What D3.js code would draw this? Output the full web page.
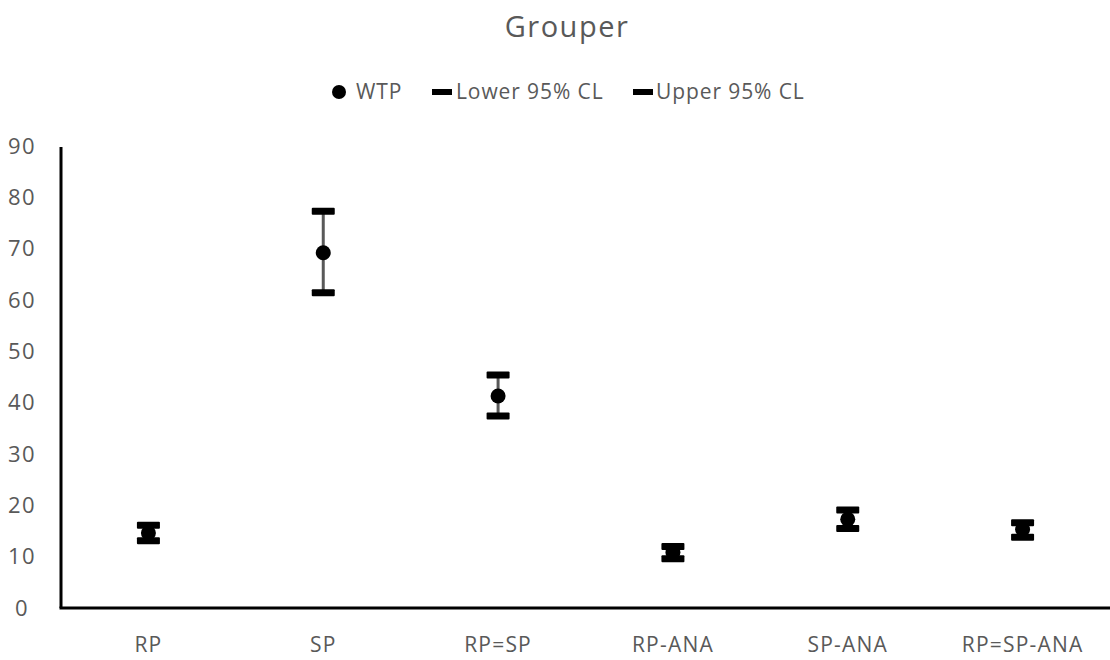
<!DOCTYPE html>
<html>
<head>
<meta charset="utf-8">
<script src="https://cdn.jsdelivr.net/npm/d3@7"></script>
<style>
  body { margin: 0; background: #fff; }
  text { font-family: "Open Sans", Lato, sans-serif; }
</style>
</head>
<body>
<svg id="chart" width="1110" height="660"></svg>
<script>
const categories = ["RP", "SP", "RP=SP", "RP-ANA", "SP-ANA", "RP=SP-ANA"];
const wtp = [14.6, 69.2, 41.3, 10.8, 17.3, 15.3];
const lower = [13.1, 61.4, 37.4, 9.6, 15.5, 13.8];
const upper = [16.1, 77.3, 45.4, 12.0, 19.1, 16.6];
const yTicks = [0, 10, 20, 30, 40, 50, 60, 70, 80, 90];

const svg = d3.select("#chart");
const margin = { left: 61, right: 0, top: 146, bottom: 52 };
const width = 1110, height = 660;

const x = d3.scaleBand()
    .domain(categories)
    .range([margin.left, width - margin.right]);

const y = d3.scaleLinear()
    .domain([0, 90])
    .range([height - margin.bottom, margin.top]);

// title
svg.append("text")
    .attr("x", 567).attr("y", 37)
    .attr("text-anchor", "middle")
    .attr("fill", "#595959")
    .style("font-size", "29px")
    .style("letter-spacing", "1.5px")
    .text("Grouper");

// y tick labels
svg.selectAll(".ytick")
    .data(yTicks)
    .enter().append("text")
    .attr("x", 22)
    .attr("y", d => y(d))
    .attr("dy", "0.35em")
    .attr("text-anchor", "middle")
    .attr("fill", "#595959")
    .style("font-size", "22px")
    .style("letter-spacing", "1.5px")
    .text(d => d);

// x labels
svg.selectAll(".xlab")
    .data(categories)
    .enter().append("text")
    .attr("x", d => x(d) + x.bandwidth() / 2)
    .attr("y", 652)
    .attr("text-anchor", "middle")
    .attr("fill", "#595959")
    .style("font-size", "21px")
    .style("letter-spacing", "1.2px")
    .text(d => d);

// axes lines
svg.append("line")
    .attr("x1", x.range()[0]).attr("x2", x.range()[0])
    .attr("y1", y(90) + 1).attr("y2", y(0))
    .attr("stroke", "#000").attr("stroke-width", 3);
svg.append("line")
    .attr("x1", x.range()[0] - 1.5).attr("x2", width)
    .attr("y1", y(0)).attr("y2", y(0))
    .attr("stroke", "#000").attr("stroke-width", 3);

const rows = categories.map((c, i) => ({ c, w: wtp[i], lo: lower[i], hi: upper[i] }));
const cx = d => x(d.c) + x.bandwidth() / 2;

// error lines
svg.selectAll(".err")
    .data(rows)
    .enter().append("line")
    .attr("x1", cx).attr("x2", cx)
    .attr("y1", d => y(d.hi)).attr("y2", d => y(d.lo))
    .attr("stroke", "#595959").attr("stroke-width", 3);

// caps (lower / upper markers)
const capW = 23, capH = 7;
["lo", "hi"].forEach(k => {
    svg.selectAll(".cap-" + k)
        .data(rows)
        .enter().append("rect")
        .attr("x", d => cx(d) - capW / 2)
        .attr("y", d => y(d[k]) - capH / 2)
        .attr("width", capW).attr("height", capH)
        .attr("rx", 1)
        .attr("fill", "#000");
});

// WTP dots
svg.selectAll(".dot")
    .data(rows)
    .enter().append("circle")
    .attr("cx", cx)
    .attr("cy", d => y(d.w))
    .attr("r", 7.5)
    .attr("fill", "#000");

// legend
const lg = svg.append("g");
const legendFont = "21px";
lg.append("circle").attr("cx", 339).attr("cy", 92).attr("r", 7).attr("fill", "#000");
lg.append("text").attr("x", 356).attr("y", 92).attr("dy", "0.35em")
    .attr("fill", "#595959").style("font-size", legendFont).style("letter-spacing", "0.9px").text("WTP");
lg.append("rect").attr("x", 432).attr("y", 89).attr("width", 20).attr("height", 6).attr("fill", "#000");
lg.append("text").attr("x", 456).attr("y", 92).attr("dy", "0.35em")
    .attr("fill", "#595959").style("font-size", legendFont).style("letter-spacing", "0.9px").text("Lower 95% CL");
lg.append("rect").attr("x", 633).attr("y", 89).attr("width", 20).attr("height", 6).attr("fill", "#000");
lg.append("text").attr("x", 656).attr("y", 92).attr("dy", "0.35em")
    .attr("fill", "#595959").style("font-size", legendFont).style("letter-spacing", "0.9px").text("Upper 95% CL");
</script>
</body>
</html>
